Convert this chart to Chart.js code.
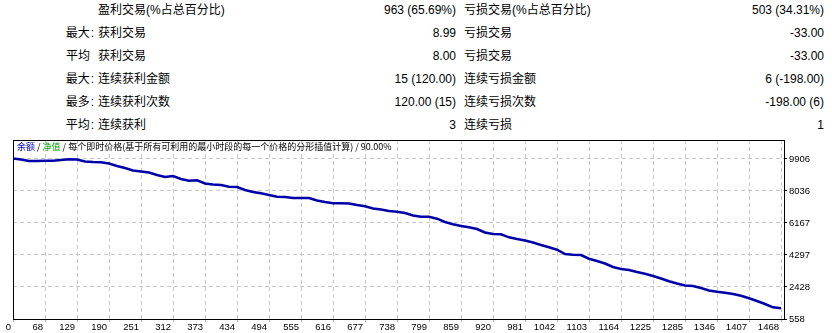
<!DOCTYPE html>
<html><head><meta charset="utf-8">
<script src="https://cdn.jsdelivr.net/npm/chart.js@4"></script>
<style>
html,body{margin:0;padding:0;background:#fff;width:832px;height:333px;overflow:hidden;}
#wrap{position:relative;width:832px;height:333px;font-family:"Liberation Sans","Noto Sans CJK SC",sans-serif;font-size:12px;color:#000;}
.c{position:absolute;white-space:nowrap;line-height:23px;height:23px;}
.p{right:738px;}
.p.nc{right:742px;}
.l1{left:98px;}
.v1{right:376px;}
.l2{left:464px;}
.v2{right:8px;}
canvas{position:absolute;left:0;top:0;}
#title{position:absolute;left:17px;top:140px;font-family:"Noto Sans CJK SC",sans-serif;font-size:9px;line-height:13px;white-space:nowrap;color:#000;}
</style>
</head><body>
<div id="wrap">
<div id="table"></div>
<canvas id="chart" width="832" height="333"></canvas>
<div id="title"></div>
</div>
<script>
// ---- data ----
const rowPrefix = ['', '最大:', '平均', '最大:', '最多:', '平均:'];
const winLabels = ['盈利交易(%占总百分比)', '获利交易', '获利交易', '连续获利金额', '连续获利次数', '连续获利'];
const winValues = ['963 (65.69%)', '8.99', '8.00', '15 (120.00)', '120.00 (15)', '3'];
const lossLabels = ['亏损交易(%占总百分比)', '亏损交易', '亏损交易', '连续亏损金额', '连续亏损次数', '连续亏损'];
const lossValues = ['503 (34.31%)', '-33.00', '-33.00', '6 (-198.00)', '-198.00 (6)', '1'];

const titleParts = [
  {text: '余额', color: '#0000c0'},
  {text: ' / ', color: '#000'},
  {text: '净值', color: '#00a000'},
  {text: ' / 每个即时价格(基于所有可利用的最小时段的每一个价格的分形插值计算) / 90.00%', color: '#000'}
];

const xLabels = ['0','68','129','190','251','312','373','434','494','555','616','677','738',
  '799','859','920','981','1042','1103','1164','1225','1285','1346','1407','1468'];
const yTickValues = [558, 2427.6, 4297.2, 6166.8, 8036.4, 9906];
const yLabels = ['558','2428','4297','6167','8036','9906'];

// balance sampled every quarter grid cell
const balance = [
  9935, 9877, 9789, 9789, 9807, 9807, 9848, 9889, 9877, 9760,
  9731, 9713, 9643, 9497, 9380, 9234, 9176, 9117, 8971, 8854,
  8913, 8738, 8638, 8662, 8475, 8416, 8387, 8288, 8270, 8095,
  7978, 7902, 7803, 7703, 7686, 7627, 7627, 7627, 7481, 7394,
  7318, 7318, 7306, 7218, 7143, 7014, 6956, 6868, 6827, 6751,
  6605, 6535, 6535, 6418, 6225, 6091, 5992, 5916, 5816, 5612,
  5524, 5507, 5331, 5232, 5144, 5028, 4881, 4747, 4607, 4356,
  4315, 4297, 4081, 3947, 3801, 3596, 3479, 3421, 3304, 3199,
  3070, 2924, 2761, 2632, 2515, 2486, 2369, 2223, 2147, 2089,
  2019, 1913, 1767, 1610, 1434, 1242, 1183
];
const sampleStep = 0.25;

// ---- table ----
const table = document.getElementById('table');
for (let i = 0; i < rowPrefix.length; i++) {
  const top = (-1.5 + i * 23) + 'px';
  const mk = (cls, txt) => {
    const d = document.createElement('div');
    d.className = 'c ' + cls;
    d.style.top = top;
    d.textContent = txt;
    table.appendChild(d);
    return d;
  };
  if (rowPrefix[i]) {
    const hasColon = rowPrefix[i].endsWith(':');
    const d = mk('p' + (hasColon ? '' : ' nc'), '');
    if (hasColon) {
      d.appendChild(document.createTextNode(rowPrefix[i].slice(0, -1)));
      const s = document.createElement('span');
      s.style.marginLeft = '1px';
      s.textContent = ':';
      d.appendChild(s);
    } else {
      d.textContent = rowPrefix[i];
    }
  }
  mk('l1', winLabels[i]);
  mk('v1', winValues[i]);
  mk('l2', lossLabels[i]);
  mk('v2', lossValues[i]);
}
const title = document.getElementById('title');
titleParts.forEach(p => {
  const s = document.createElement('span');
  s.style.color = p.color;
  s.textContent = p.text;
  title.appendChild(s);
});

// ---- chart ----
const points = balance.map((v, i) => ({x: i * sampleStep, y: v}));

const framePlugin = {
  id: 'frame',
  beforeDatasetsDraw(chart) {
    const a = chart.chartArea, ctx = chart.ctx;
    ctx.save();
    ctx.strokeStyle = '#000';
    ctx.lineWidth = 1;
    ctx.strokeRect(a.left + 0.5, a.top + 0.5, a.right - a.left, a.bottom - a.top);
    ctx.restore();
  }
};

new Chart(document.getElementById('chart'), {
  type: 'line',
  data: {
    datasets: [{
      data: points,
      borderColor: '#0000a8',
      borderWidth: 2.5,
      pointRadius: 0,
      tension: 0,
      fill: false
    }]
  },
  options: {
    responsive: false,
    animation: false,
    events: [],
    layout: {padding: {left: 13, top: 140, right: 0, bottom: 0}},
    plugins: {legend: {display: false}, tooltip: {enabled: false}, title: {display: false}},
    scales: {
      x: {
        type: 'linear',
        min: 0,
        max: 771 / 32,
        afterBuildTicks: ax => { ax.ticks = xLabels.map((_, i) => ({value: i})); },
        afterFit: ax => { ax.height = 14; },
        grid: {color: '#c8c8c8', lineWidth: 1, tickLength: 3, tickColor: '#b0b0b0'},
        border: {display: false, dash: [4, 3]},
        ticks: {
          autoSkip: false, maxRotation: 0, minRotation: 0,
          align: 'end', labelOffset: -2, padding: 0,
          color: '#000',
          font: {family: 'Liberation Sans', size: 9.5},
          callback: (v, i) => xLabels[i]
        }
      },
      y: {
        type: 'linear',
        position: 'right',
        min: 558,
        max: 11016,
        afterBuildTicks: ax => { ax.ticks = yTickValues.map(v => ({value: v})); },
        afterFit: ax => { ax.width = 48; },
        grid: {color: '#c8c8c8', lineWidth: 1, tickLength: 3, tickColor: '#000'},
        border: {display: false, dash: [4, 3]},
        ticks: {
          padding: 2,
          color: '#000',
          font: {family: 'Liberation Sans', size: 9.5},
          callback: (v, i) => yLabels[i]
        }
      }
    }
  },
  plugins: [framePlugin]
});
</script>
</body></html>
